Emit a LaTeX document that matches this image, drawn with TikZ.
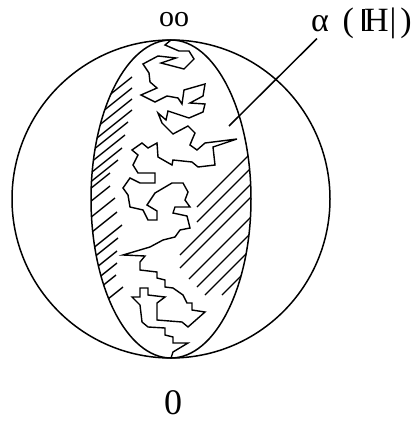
\documentclass[tikz,border=0pt]{standalone}
\usepackage{fontspec}
\setmainfont{Liberation Serif}
\usetikzlibrary{calc}
\definecolor{Ink}{HTML}{000000}
\tikzset{
 rim/.style={draw=Ink,line width=1.5pt},
 walk/.style={draw=Ink,line width=1.4pt,line join=miter},
 hatch/.style={draw=Ink,line width=1.4pt},
 lbl/.style={inner sep=0pt,text=Ink}
}

\begin{document}
\begin{tikzpicture}[x=1pt,y=-1pt]
\useasboundingbox (0,0) rectangle (417,423);
\node[circle,rim,minimum size=318pt,inner sep=0pt] (ball) at (171,199) {};
\coordinate (top) at (171,40);
\coordinate (bot) at (171,358);
\draw[rim] (171,199) ellipse[x radius=80,y radius=159];
\begin{scope}
\clip (171,199) ellipse[x radius=80,y radius=159];
% left side strokes
\foreach \x/\y in {132/77,132/88,132/99,132/110,128/122,125/135,122/148,118/160,110/173,110/186,115/198,117/212,122/225,118/238,117/251,117/263,116/275,123/287}
 \draw[hatch] (\x-60,\y+48) -- (\x,\y);
% right side strokes
\foreach \x/\y in {197/207,197/222,180/255,180/268,189/279,197/287,205/295,222/295}
 \draw[hatch] (\x,\y) -- ++(80,-80);
\end{scope}
\draw[walk] (top) -- (165,45) -- (179,51) -- (189,51) -- (194,59) -- (184,69) -- (161,63) -- (176,58) -- (158,56) -- (143,64) -- (149,73) -- (150,82) -- (157,88) -- (141,95) -- (155,102) -- (167,96) -- (178,98) -- (182,104) -- (184,90) -- (205,84) -- (203,96) -- (190,103) -- (205,104) -- (203,112) -- (189,118) -- (168,111) -- (166,120) -- (158,113) -- (162,123) -- (173,134) -- (188,126) -- (195,133) -- (192,140) -- (190,145) -- (197,150) -- (205,143) -- (237,139) -- (213,147) -- (215,165) -- (198,167) -- (192,162) -- (173,160) -- (172,165) -- (158,157) -- (157,143) -- (148,148) -- (142,143) -- (132,150) -- (138,155) -- (133,165) -- (138,173) -- (155,173) -- (155,183) -- (140,183) -- (130,178) -- (123,188) -- (128,195) -- (130,207) -- (143,210) -- (148,220) -- (157,220) -- (157,211) -- (147,205) -- (155,193) -- (172,183) -- (183,183) -- (188,192) -- (185,200) -- (190,207) -- (175,207) -- (173,213) -- (187,216) -- (190,228) -- (180,230) -- (175,237) -- (163,240) -- (150,247) -- (123,255) -- (145,256) -- (140,262) -- (140,270) -- (157,272) -- (157,278) -- (165,280) -- (165,287) -- (173,288) -- (183,295) -- (187,303) -- (192,303) -- (192,310) -- (205,312) -- (188,327) -- (182,322) -- (157,320) -- (157,303) -- (165,297) -- (148,295) -- (148,288) -- (140,288) -- (140,297) -- (132,297) -- (140,305) -- (142,322) -- (148,327) -- (165,328) -- (165,335) -- (173,337) -- (173,343) -- (188,343) -- (173,352) -- (bot);
\node[lbl,anchor=base] (inf) at (174,27) {\fontsize{30}{30}\selectfont oo};
\node[lbl,anchor=base] (zero) at (173,414) {\fontsize{36}{36}\selectfont 0};
\node[lbl,anchor=base west] (alpha) at (311,31) {\fontsize{34}{34}\selectfont α\kern5pt\ (\ \rule{0.07em}{0.66em}\kern-0.02em H\kern1pt|\kern4pt)};
\coordinate (tip) at (229,126);
\draw[rim] ([xshift=6pt]alpha.south west) -- (tip);
\end{tikzpicture}
\end{document}
